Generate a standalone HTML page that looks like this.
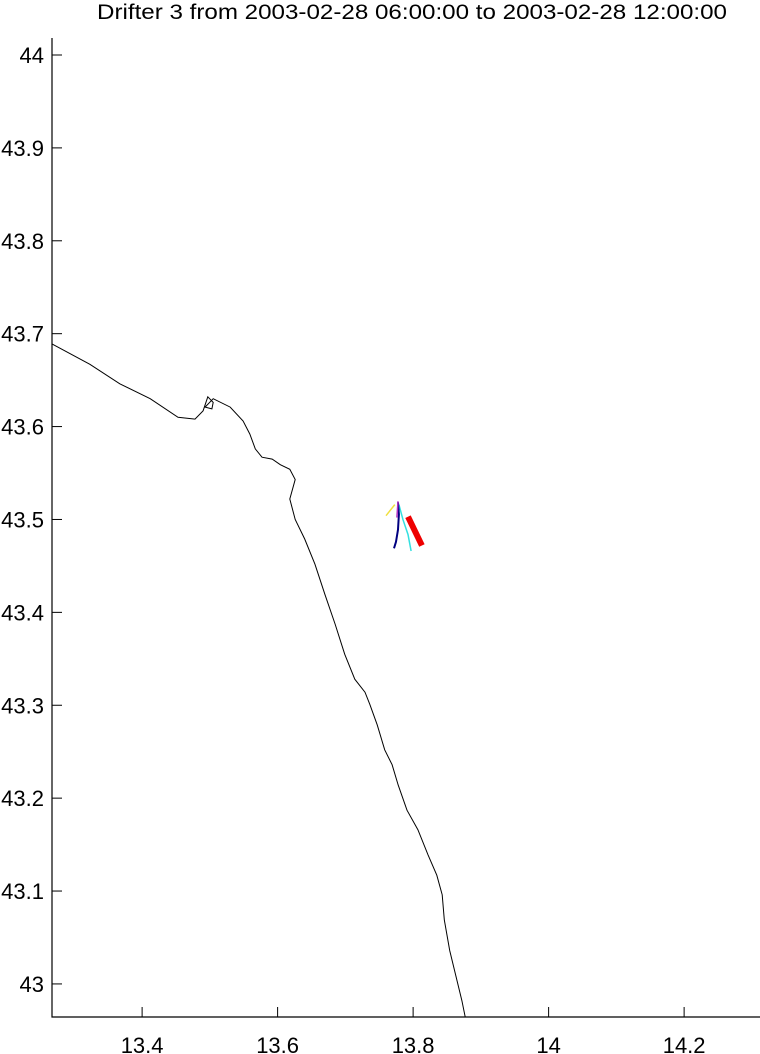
<!DOCTYPE html>
<html><head><meta charset="utf-8"><style>
body{margin:0;background:#fff;}
svg{display:block;font-family:"Liberation Sans",sans-serif;}
</style></head><body>
<svg id="chart" width="760" height="1054"></svg>
<script>
const xTicks=[13.4,13.6,13.8,14,14.2];
const yTicks=[43,43.1,43.2,43.3,43.4,43.5,43.6,43.7,43.8,43.9,44];
const coastLon=[13.267,13.323,13.367,13.412,13.453,13.478,13.490,13.497,13.505,13.503,13.493,13.505,13.530,13.549,13.559,13.567,13.577,13.592,13.604,13.618,13.626,13.618,13.626,13.640,13.655,13.670,13.685,13.699,13.714,13.729,13.736,13.747,13.758,13.769,13.778,13.791,13.807,13.822,13.835,13.843,13.846,13.854,13.863,13.872,13.877];
const coastLat=[43.689,43.667,43.646,43.630,43.610,43.608,43.617,43.632,43.626,43.619,43.621,43.630,43.621,43.606,43.592,43.576,43.567,43.565,43.559,43.554,43.543,43.522,43.500,43.479,43.452,43.419,43.387,43.355,43.328,43.314,43.301,43.279,43.252,43.236,43.214,43.187,43.166,43.139,43.117,43.096,43.069,43.036,43.009,42.982,42.964];
const navyLon=[13.7777,13.779,13.7777,13.7747,13.7718];
const navyLat=[43.5185,43.5055,43.489,43.476,43.469];
const cyanLon=[13.779,13.785,13.7925,13.797];
const cyanLat=[43.516,43.4997,43.4838,43.466];
const redLon=[13.7925,13.813];
const redLat=[43.503,43.472];
const yellowLon=[13.760,13.773];
const yellowLat=[43.504,43.516];
const magentaLon=[13.7777,13.776];
const magentaLat=[43.5196,43.502];

const L=52,R=760,T=38,B=1017;
const lon0=13.267,lon1=14.312,lat0=42.9644,lat1=44.0183;
const sx=v=>L+(v-lon0)/(lon1-lon0)*(R-L);
const sy=v=>B-(v-lat0)/(lat1-lat0)*(B-T);
const svg=document.getElementById('chart');
const NS='http://www.w3.org/2000/svg';
function mk(tag,attrs,parent){const e=document.createElementNS(NS,tag);for(const k in attrs)e.setAttribute(k,attrs[k]);(parent||svg).appendChild(e);return e;}

let t=mk('text',{x:97,y:19,'font-size':21,textLength:630,lengthAdjust:'spacingAndGlyphs'});
t.textContent='Drifter 3 from 2003-02-28 06:00:00 to 2003-02-28 12:00:00';



let ax=mk('path',{d:`M${L},${T}V${B}H${R}`,stroke:'#000','stroke-width':1.2,fill:'none'});



xTicks.forEach(v=>{
  const x=sx(v);
  mk('line',{x1:x,x2:x,y1:B,y2:B-10,stroke:'#000'});
  const tx=mk('text',{x:x,y:1053,'text-anchor':'middle','font-size':22});
  tx.textContent=String(v);
  
  
});
yTicks.forEach(v=>{
  const y=sy(v);
  mk('line',{x1:L,x2:L+10,y1:y,y2:y,stroke:'#000'});
  const ty=mk('text',{x:44,y:y+8,'text-anchor':'end','font-size':22});
  ty.textContent=String(v);
  
  
});

function line(lons,lats,color,w,name){
  const d=lons.map((v,i)=>(i?'L':'M')+sx(v).toFixed(1)+','+sy(lats[i]).toFixed(1)).join('');
  const p=mk('path',{d:d,stroke:color,'stroke-width':w,fill:'none','stroke-linecap':'butt'});
  
  
}
line(coastLon,coastLat,'#000',1,'coastline');
line(cyanLon,cyanLat,'#33e0e0',1.5,'track-cyan');
line(navyLon,navyLat,'#000080',2,'track-navy');
line(yellowLon,yellowLat,'#f0e040',1.5,'track-yellow');
line(magentaLon,magentaLat,'#b030c0',1.5,'track-magenta');
line(redLon,redLat,'#ee0000',6,'track-red');
</script>
</body></html>
